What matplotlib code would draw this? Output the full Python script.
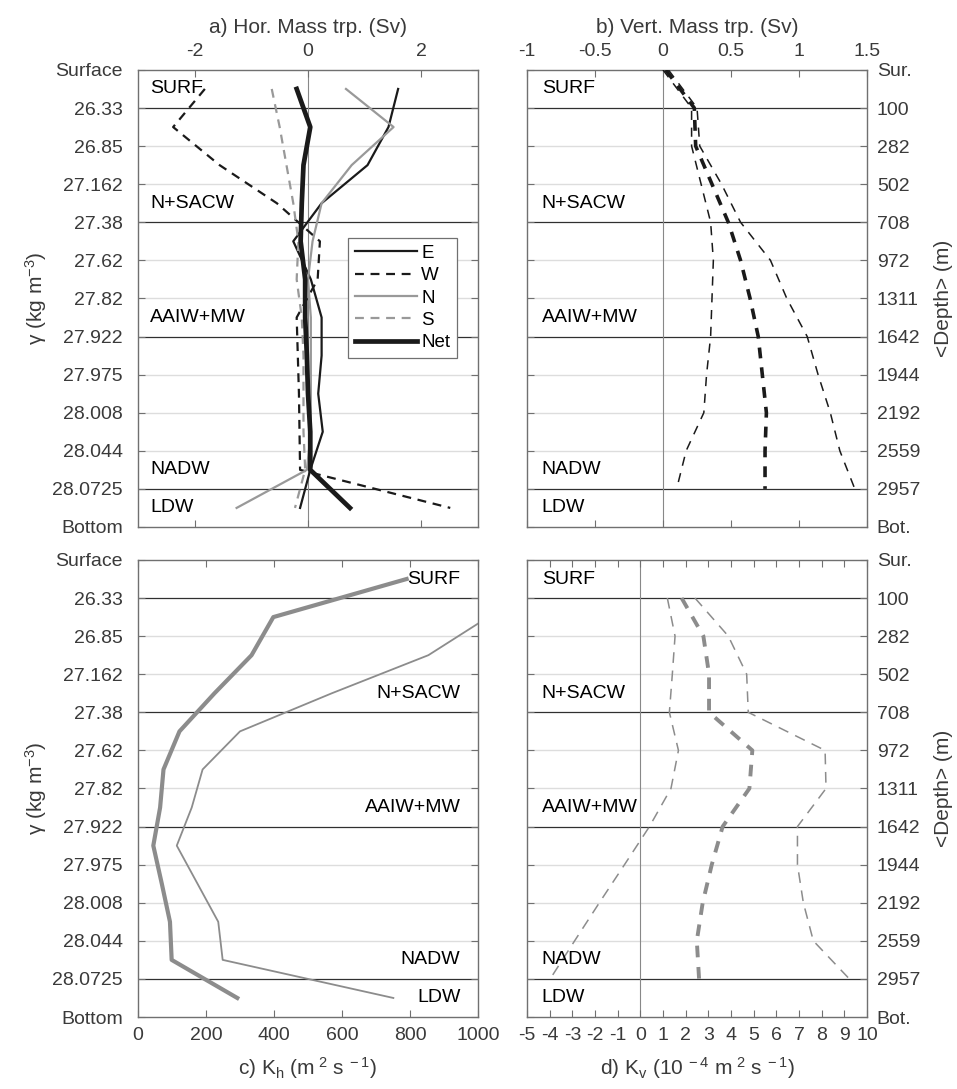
import numpy as np
import matplotlib
matplotlib.use("Agg")
import matplotlib.pyplot as plt

plt.rcParams['font.family'] = ['Liberation Sans', 'DejaVu Sans']
plt.rcParams['mathtext.fontset'] = 'custom'
plt.rcParams['mathtext.rm'] = 'Liberation Sans'
plt.rcParams['mathtext.it'] = 'Liberation Sans'
plt.rcParams['font.size'] = 14
plt.rcParams['axes.unicode_minus'] = False

# Neutral density levels (left axis) and mean depths (right axis)
levels = ['Surface', '26.33', '26.85', '27.162', '27.38', '27.62', '27.82',
          '27.922', '27.975', '28.008', '28.044', '28.0725', 'Bottom']
depths = ['Sur.', '100', '282', '502', '708', '972', '1311', '1642', '1944',
          '2192', '2559', '2957', 'Bot.']

# Water masses: name, label position (layer index), boundary interfaces
masses = ['SURF', 'N+SACW', 'AAIW+MW', 'NADW', 'LDW']
mass_pos = [0.5, 3.5, 6.5, 10.5, 11.5]
mass_bounds = [1, 4, 7, 11]

# a) Horizontal mass transport per layer (Sv), layers 1..12
trp_E = [1.59, 1.42, 1.05, 0.24, -0.26, 0.05, 0.24, 0.24, 0.18, 0.26, 0.04, -0.14]
trp_W = [-1.82, -2.38, -1.56, -0.55, 0.21, 0.17, -0.20, -0.18, -0.16, -0.15, -0.14, 2.51]
trp_N = [0.67, 1.51, 0.77, 0.24, 0.08, 0.00, 0.05, 0.05, 0.05, 0.05, -0.02, -1.26]
trp_S = [-0.64, -0.50, -0.38, -0.26, -0.17, -0.20, -0.11, -0.08, -0.08, -0.08, -0.05, -0.23]
trp_net = [-0.20, 0.04, -0.08, -0.11, -0.13, -0.05, -0.05, -0.02, 0.00, 0.04, 0.04, 0.74]

# b) Vertical mass transport at interfaces (Sv), interfaces 0..11
vtrp_lo = [0.00, 0.21, 0.21, 0.28, 0.35, 0.37, 0.36, 0.35, 0.32, 0.30, 0.17, 0.10]
vtrp_mid = [0.02, 0.23, 0.24, 0.36, 0.48, 0.57, 0.64, 0.70, 0.73, 0.76, 0.75, 0.75]
vtrp_hi = [0.04, 0.25, 0.27, 0.43, 0.57, 0.79, 0.91, 1.06, 1.14, 1.23, 1.30, 1.41]

# c) Horizontal diffusivity per layer (m2/s)
kh_best = [790, 398, 334, 225, 122, 75, 65, 45, 70, 94, 99, 292]
kh_hi = [np.nan, 1030, 854, 570, 300, 190, 158, 114, 175, 236, 249, 751]

# d) Vertical diffusivity at interfaces 1..11 (1e-4 m2/s)
kv_lo = [1.19, 1.53, 1.41, 1.28, 1.68, 1.35, 0.40, -0.70, -1.81, -2.90, -3.98]
kv_mid = [1.82, 2.78, 3.03, 3.03, 4.94, 4.81, 3.63, 3.15, 2.75, 2.49, 2.59]
kv_hi = [2.41, 3.88, 4.69, 4.76, 8.15, 8.19, 6.93, 6.93, 7.19, 7.63, 9.22]

layer_y = np.arange(12) + 0.5
iface_y = np.arange(12)
GRAY = '#999999'
TXT = '#3a3a3a'

fig = plt.figure(figsize=(9.57, 10.89), dpi=100)
w, h = 0.3553, 0.4197
ax_a = fig.add_axes([0.1442, 0.5161, w, h])
ax_b = fig.add_axes([0.5507, 0.5161, w, h])
ax_c = fig.add_axes([0.1442, 0.0661, w, h])
ax_d = fig.add_axes([0.5507, 0.0661, w, h])


def setup(ax, right=False):
    ax.set_ylim(12, 0)
    ax.set_yticks(np.arange(13))
    if right:
        ax.set_yticklabels(depths)
        ax.tick_params(axis='y', left=True, right=True, labelleft=False,
                       labelright=True, pad=7)
    else:
        ax.set_yticklabels(levels)
        ax.tick_params(axis='y', left=True, right=True, pad=11)
    ax.tick_params(axis='x', pad=7)
    ax.tick_params(direction='in', length=5, color='#707070', labelsize=14,
                   labelcolor=TXT)
    for s in ax.spines.values():
        s.set_color('#707070')
        s.set_linewidth(1.0)
    for i in range(1, 12):
        if i in mass_bounds:
            ax.axhline(i, color='#303030', lw=0.9, zorder=1)
        else:
            ax.axhline(i, color='#dddddd', lw=1.0, zorder=0)


def mass_labels(ax, align='left', x0=0.035):
    for name, pos in zip(masses, mass_pos):
        if align == 'left':
            ax.text(x0, pos, name, transform=ax.get_yaxis_transform(),
                    ha='left', va='center', fontsize=14)
        else:
            ax.text(0.948, pos, name, transform=ax.get_yaxis_transform(),
                    ha='right', va='center', fontsize=14)


# panel a
setup(ax_a)
ax_a.set_xlim(-3, 3)
ax_a.set_xticks([-2, 0, 2])
ax_a.tick_params(axis='x', top=True, bottom=True, labeltop=True, labelbottom=False)
ax_a.axvline(0, color='#888888', lw=0.8, zorder=1)
ax_a.plot(trp_E, layer_y, color='#1a1a1a', lw=1.6, label='E', zorder=3)
ax_a.plot(trp_W, layer_y, color='#1a1a1a', lw=1.6, ls=(0, (4, 3)), label='W', zorder=3)
ax_a.plot(trp_N, layer_y, color=GRAY, lw=1.6, label='N', zorder=3)
ax_a.plot(trp_S, layer_y, color=GRAY, lw=1.6, ls=(0, (4, 3)), label='S', zorder=3)
ax_a.plot(trp_net, layer_y, color='#1a1a1a', lw=3.4, label='Net', zorder=4)
ax_a.xaxis.set_label_position('top')
ax_a.set_xlabel('a) Hor. Mass trp. (Sv)', labelpad=7, fontsize=15, color=TXT)
ax_a.set_ylabel(r'$\gamma$ (kg m$^{-3}$)', labelpad=2, fontsize=15, color=TXT)
mass_labels(ax_a)
leg = ax_a.legend(loc='upper left', bbox_to_anchor=(0.618, 0.632), fancybox=False,
                  edgecolor='#707070', framealpha=1, handlelength=3.3,
                  handletextpad=0.25, borderpad=0.35, labelspacing=0.28,
                  borderaxespad=0, fontsize=13.5)
leg.get_frame().set_linewidth(0.9)

# panel b
setup(ax_b, right=True)
ax_b.set_xlim(-1, 1.5)
ax_b.set_xticks([-1, -0.5, 0, 0.5, 1, 1.5])
ax_b.set_xticklabels(['-1', '-0.5', '0', '0.5', '1', '1.5'])
ax_b.tick_params(axis='x', top=True, bottom=True, labeltop=True, labelbottom=False)
ax_b.axvline(0, color='#888888', lw=0.8, zorder=1)
ax_b.plot(vtrp_lo, iface_y, color='#1a1a1a', lw=1.1, ls=(0, (6, 5)), zorder=3)
ax_b.plot(vtrp_mid, iface_y, color='#1a1a1a', lw=2.6, ls=(0, (3, 2.5)), zorder=3)
ax_b.plot(vtrp_hi, iface_y, color='#1a1a1a', lw=1.1, ls=(0, (6, 5)), zorder=3)
ax_b.xaxis.set_label_position('top')
ax_b.set_xlabel('b) Vert. Mass trp. (Sv)', labelpad=7, fontsize=15, color=TXT)
ax_b.yaxis.set_label_position('right')
ax_b.set_ylabel('<Depth> (m)', labelpad=10, fontsize=15, color=TXT)
mass_labels(ax_b, x0=0.043)

# panel c
setup(ax_c)
ax_c.set_xlim(0, 1000)
ax_c.set_xticks(np.arange(0, 1001, 200))
ax_c.tick_params(axis='x', top=True, bottom=True)
ax_c.plot(kh_best, layer_y, color='#8c8c8c', lw=3.0, zorder=3)
ax_c.plot(kh_hi, layer_y, color='#8c8c8c', lw=1.3, zorder=3)
ax_c.set_xlabel(r'c) K$_{h}$ (m$^{\ 2}$ s$^{\ -1}$)', labelpad=8, fontsize=15, color=TXT)
ax_c.set_ylabel(r'$\gamma$ (kg m$^{-3}$)', labelpad=2, fontsize=15, color=TXT)
mass_labels(ax_c, align='right')

# panel d
setup(ax_d, right=True)
ax_d.set_xlim(-5, 10)
ax_d.set_xticks(np.arange(-5, 11, 1))
ax_d.tick_params(axis='x', top=True, bottom=True)
ax_d.axvline(0, color='#888888', lw=0.8, zorder=1)
ax_d.plot(kv_lo, iface_y[1:], color='#8c8c8c', lw=1.1, ls=(0, (7, 5)), zorder=3)
ax_d.plot(kv_mid, iface_y[1:], color='#8c8c8c', lw=2.8, ls=(0, (3, 2.5)), zorder=3)
ax_d.plot(kv_hi, iface_y[1:], color='#8c8c8c', lw=1.1, ls=(0, (7, 5)), zorder=3)
ax_d.set_xlabel(r'd) K$_{v}$ (10$^{\ -4}$ m$^{\ 2}$ s$^{\ -1}$)', labelpad=8, fontsize=15, color=TXT)
ax_d.yaxis.set_label_position('right')
ax_d.set_ylabel('<Depth> (m)', labelpad=10, fontsize=15, color=TXT)
mass_labels(ax_d, x0=0.043)

fig.savefig('out.png', dpi=100)
